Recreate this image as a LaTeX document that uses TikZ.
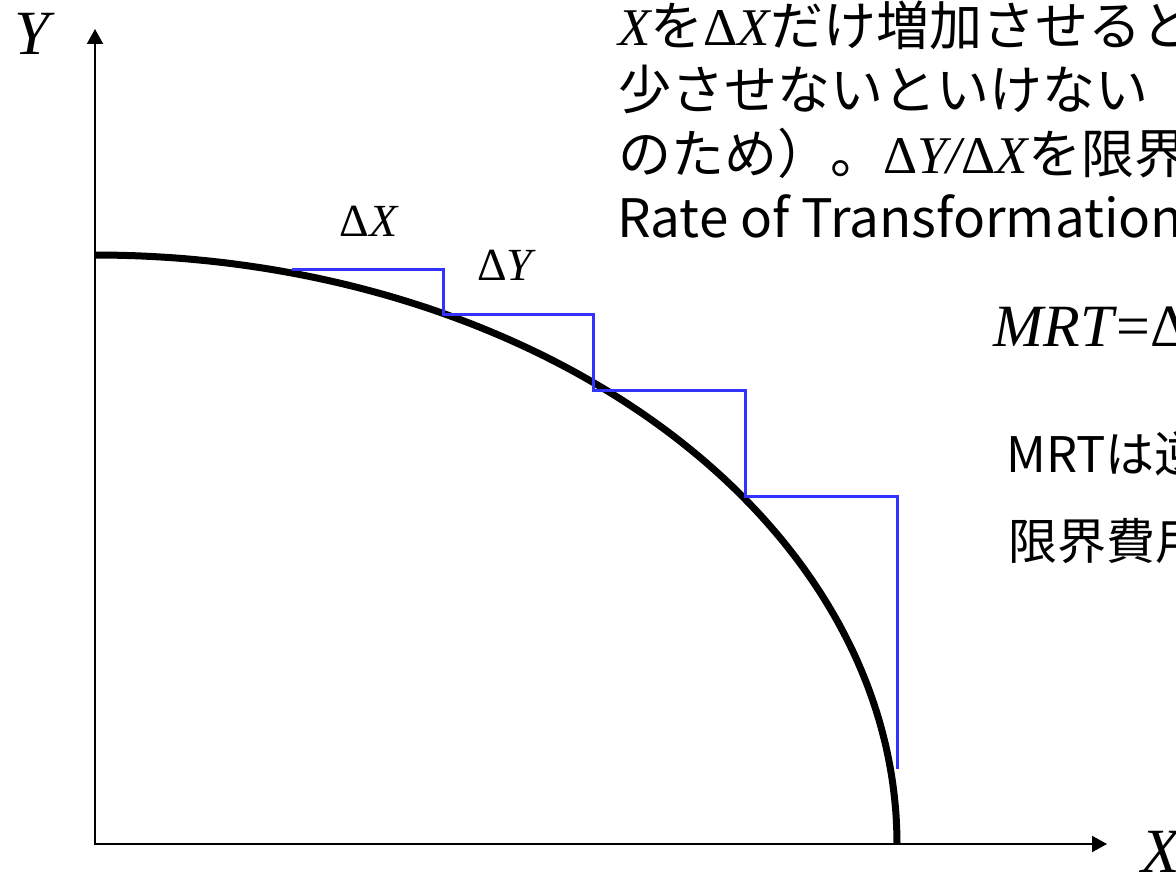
\documentclass[tikz,border=0pt]{standalone}
\usepackage{fontspec}
\setmainfont{Liberation Serif}
\newfontfamily\jpfont{Noto Sans CJK JP}
\usepackage{xcolor}
\usetikzlibrary{arrows.meta}
\definecolor{stepBlue}{RGB}{51,51,255}
\newcommand{\tvar}[1]{{\normalfont\itshape #1}}
\newcommand{\tdel}{{\normalfont Δ}}

\begin{document}
\begin{tikzpicture}[x=0.5pt,y=0.5pt,
    axisline/.style={line width=1pt, {Triangle[length=7.5pt,width=8pt]}-{Triangle[length=7.5pt,width=8pt]}},
    ppfline/.style={line width=3.5pt},
    stepline/.style={stepBlue, line width=1.5pt},
    axislabel/.style={font=\fontsize{31.5pt}{34pt}\selectfont\itshape, inner sep=0pt},
    deltalabel/.style={font=\fontsize{23pt}{26pt}\selectfont, inner sep=0pt},
    jptext/.style={font=\jpfont\fontsize{26.5pt}{30pt}\selectfont, inner sep=0pt, anchor=base west},
    notetext/.style={font=\jpfont\fontsize{24.5pt}{28pt}\selectfont, inner sep=0pt, anchor=base west}]
    % key values
    \pgfmathsetmacro{\rx}{802}
    \pgfmathsetmacro{\ry}{589}

    % frame
    \useasboundingbox (-95,-28) rectangle (1081,844);
    \clip (-95,-28) rectangle (1081,844);

    % axes
    \draw[axisline] (0,815) -- (0,0) -- (1012,0);
    \node[axislabel] (ylab) at (-63,810) {Y};
    \node[axislabel] (xlab) at (1066,-8) {X};

    % frontier
    \draw[ppfline, smooth, samples=120, domain=0:90]
        plot ({\rx*cos(\x)},{\ry*sin(\x)});

    % steps along the frontier
    \draw[stepline] (197,574) -| (348,529) -| (498,453) -| (650,347) -| (802,75);
    \node[deltalabel] (dxlab) at (274,623) {Δ\textit{X}};
    \node[deltalabel] (dylab) at (412,579) {Δ\textit{Y}};

    % explanation
    \node[jptext] (line1) at (523,798) {\tvar{X}を\tdel\tvar{X}だけ増加させると};
    \node[jptext] (line2) at (523,734) {少させないといけない};
    \node[jptext] (line3) at (523,670) {のため）。\tdel\tvar{Y/}\tdel\tvar{X}を限界};
    \node[jptext] (line4) at (522,606) {Rate of Transformation};
    \node[anchor=base west, inner sep=0pt, font=\fontsize{30pt}{34pt}\selectfont] (mrt)
        at (898,497) {\textit{MRT}=Δ};
    \node[notetext] (note1) at (911,371) {MRTは逆};
    \node[notetext] (note2) at (913,284) {限界費用};
\end{tikzpicture}
\end{document}
